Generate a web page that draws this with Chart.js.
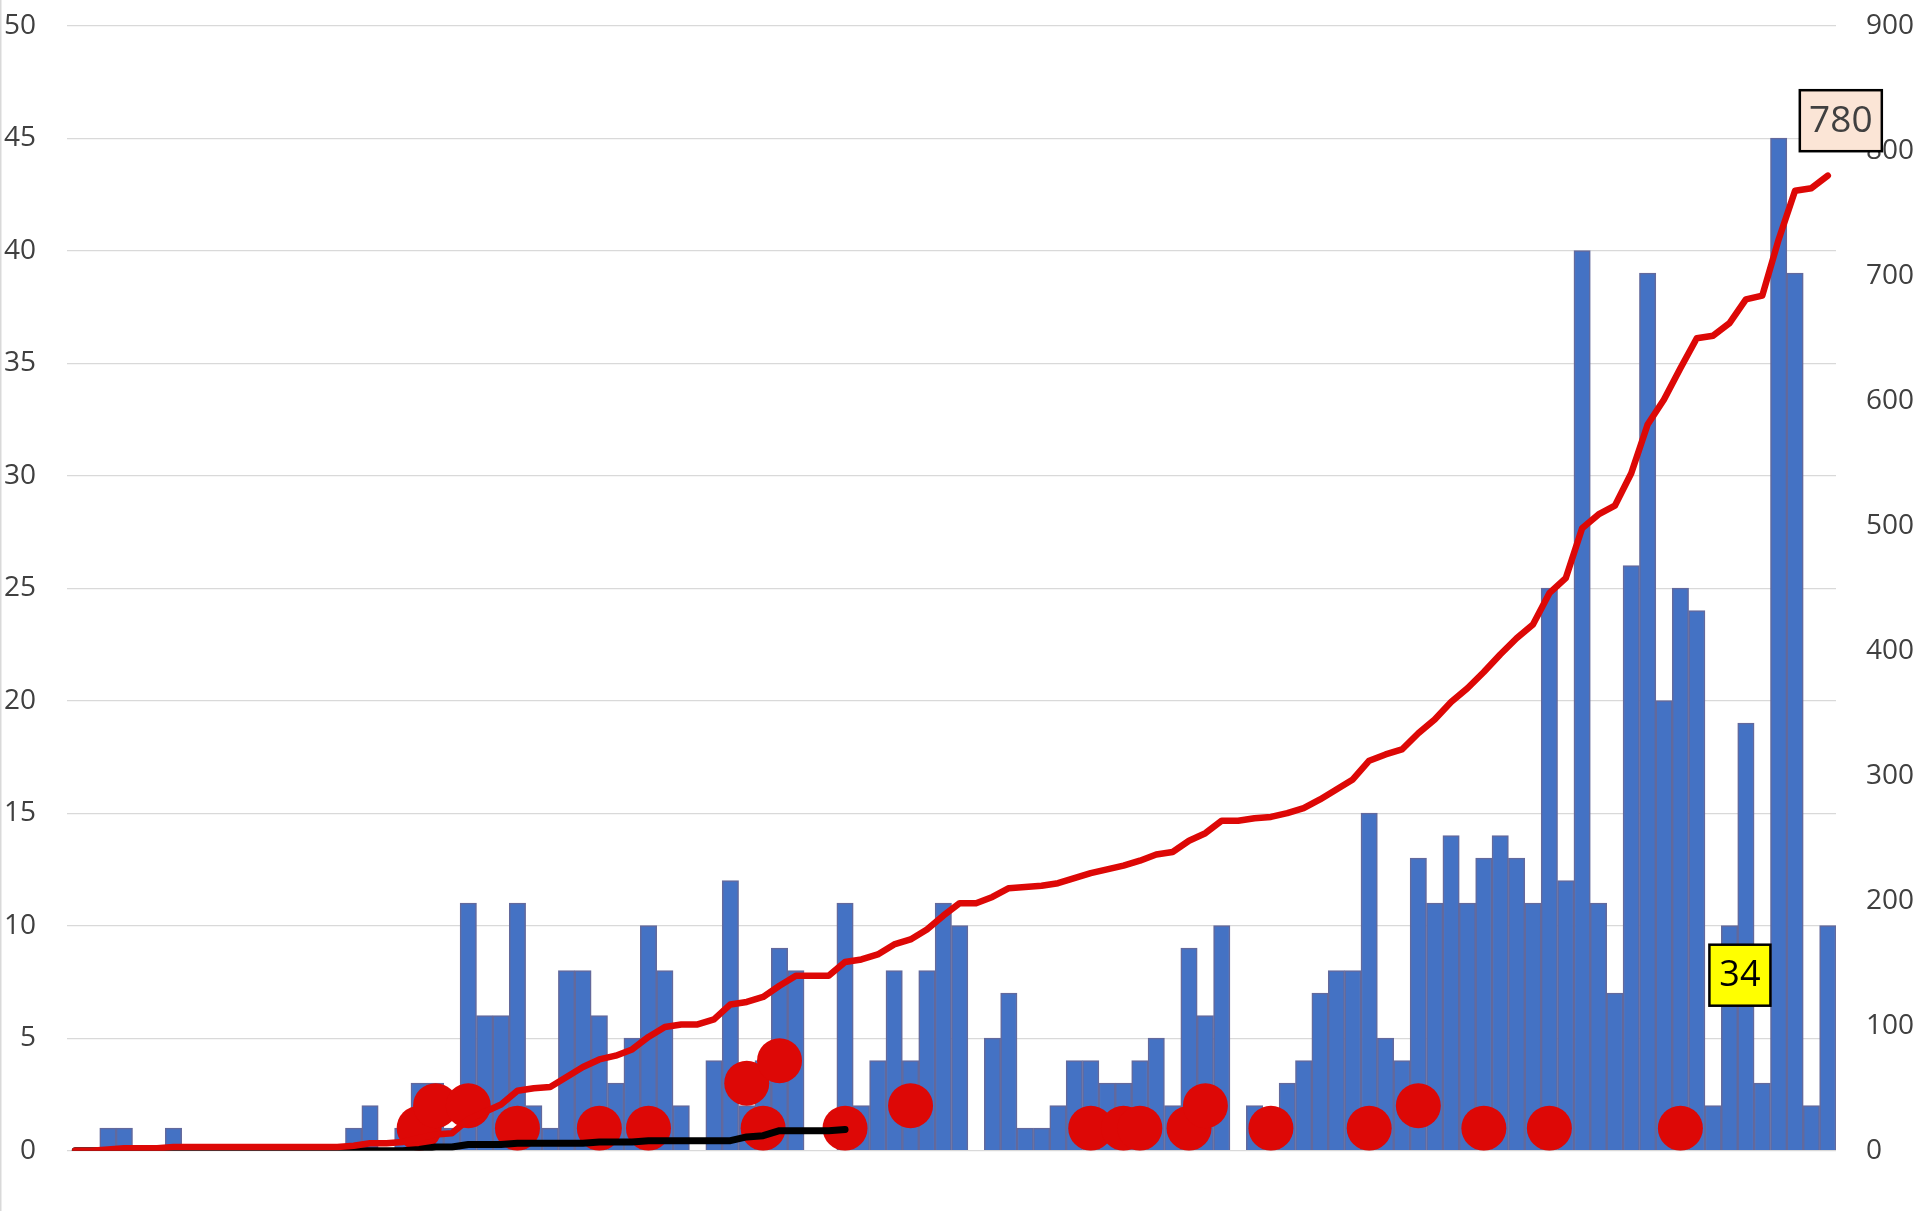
<!DOCTYPE html>
<html>
<head>
<meta charset="utf-8">
<title>Daily cases</title>
<script src="https://cdn.jsdelivr.net/npm/chart.js@4.4.1/dist/chart.umd.min.js"></script>
<style>
  html, body { margin: 0; padding: 0; background: #fff; }
  canvas { display: block; }
</style>
</head>
<body>
<canvas id="myChart" width="1920" height="1211"></canvas>
<script>
// one category per day, the axis shows no labels
const days = Array.from({ length: 108 }, (_, i) => 'D' + (i + 1));

// new cases per day (blue bars, left axis)
const dailyCases = [
    0, 0, 1, 1, 0, 0, 1, 0, 0, 0,
    0, 0, 0, 0, 0, 0, 0, 1, 2, 0,
    1, 3, 3, 1, 11, 6, 6, 11, 2, 1,
    8, 8, 6, 3, 5, 10, 8, 2, 0, 4,
    12, 2, 4, 9, 8, 0, 0, 11, 2, 4,
    8, 4, 8, 11, 10, 0, 5, 7, 1, 1,
    2, 4, 4, 3, 3, 4, 5, 2, 9, 6,
    10, 0, 2, 1, 3, 4, 7, 8, 8, 15,
    5, 4, 13, 11, 14, 11, 13, 14, 13, 11,
    25, 12, 40, 11, 7, 26, 39, 20, 25, 24,
    2, 10, 19, 3, 45, 39, 2, 10
];

// red dots: day index and count (left axis)
const deathDays   = [21, 22, 24, 27, 32, 35, 41, 42, 43, 47, 51, 62, 64, 65, 68, 69, 73, 79, 82, 86, 90, 98];
const deathValues = [1,  2,  2,  1,  1,  1,  3,  1,  4,  1,  2,  1,  1,  1,  1,  2,  1,  1,  2,  1,  1,  1];

// black running total stops at this day
const deathTotalLastDay = 47;

// axis ticks
const leftTicks = { min: 0, max: 50, step: 5 };
const rightTicks = { min: 0, max: 900, step: 100 };

// boxed labels
const totalLabel = '780';
const deathsLabel = '34';

const RED = '#DD0806';
const BLUE = '#4472C4';
const AXIS_TEXT = '#404040';
const FONT = '"Open Sans", "Noto Sans", sans-serif';

const runningTotal = (arr) => {
    let sum = 0;
    return arr.map(v => (sum += v));
};

const buildData = () => {
    const deathsPerDay = days.map(() => null);
    const deathsFlat = days.map(() => 0);
    for (let i = 0; i < deathDays.length; i++) {
        deathsPerDay[deathDays[i]] = deathValues[i];
        deathsFlat[deathDays[i]] = deathValues[i];
    }
    const deathTotal = runningTotal(deathsFlat).map((v, i) => (i <= deathTotalLastDay ? v : null));

    return {
        labels: days,
        datasets: [
            {
                type: 'line',
                data: runningTotal(dailyCases),
                yAxisID: 'y1',
                borderColor: RED,
                borderWidth: 6.5,
                borderJoinStyle: 'round',
                borderCapStyle: 'round',
                pointRadius: 0,
                tension: 0,
                order: 1
            },
            {
                type: 'line',
                data: deathTotal,
                yAxisID: 'y1',
                borderColor: '#000000',
                borderWidth: 7,
                borderJoinStyle: 'round',
                borderCapStyle: 'round',
                pointRadius: 0,
                tension: 0,
                spanGaps: false,
                order: 2
            },
            {
                type: 'line',
                data: deathsPerDay,
                yAxisID: 'y',
                showLine: false,
                pointRadius: 22.5,
                pointBackgroundColor: RED,
                pointBorderWidth: 0,
                borderColor: RED,
                order: 3
            },
            {
                type: 'bar',
                data: dailyCases.map(v => (v === 0 ? null : v)),
                yAxisID: 'y',
                backgroundColor: BLUE,
                borderColor: '#63699C',
                borderWidth: 1.5,
                borderSkipped: 'start',
                barPercentage: 1,
                categoryPercentage: 1,
                order: 4
            }
        ]
    };
};

const drawBox = (ctx, cx, cy, w, h, text, fill, color, size) => {
    ctx.save();
    ctx.fillStyle = fill;
    ctx.fillRect(cx - w / 2, cy - h / 2, w, h);
    ctx.lineWidth = 2.5;
    ctx.strokeStyle = '#000000';
    ctx.strokeRect(cx - w / 2, cy - h / 2, w, h);
    ctx.fillStyle = color;
    ctx.font = size + 'px ' + FONT;
    ctx.textAlign = 'center';
    ctx.textBaseline = 'middle';
    ctx.fillText(text, cx, cy + 1);
    ctx.restore();
};

// boxed value labels and the thin frame line on the left
const extras = {
    id: 'extras',
    beforeDraw(chart) {
        const ctx = chart.ctx;
        ctx.save();
        ctx.strokeStyle = '#D9D9D9';
        ctx.lineWidth = 1.5;
        ctx.beginPath();
        ctx.moveTo(0.75, 0);
        ctx.lineTo(0.75, chart.height);
        ctx.stroke();
        ctx.restore();
    },
    afterDraw(chart) {
        const { ctx, scales } = chart;
        const last = dailyCases.length - 1;
        const total = runningTotal(dailyCases)[last];
        const bx = scales.x.getPixelForValue(last) + 13;
        const by = scales.y1.getPixelForValue(total) - 55;
        drawBox(ctx, bx, by, 82, 61, totalLabel, '#FBE5D6', AXIS_TEXT, 37);

        const sx = scales.x.getPixelForValue(102) - 6;
        const sy = scales.y.getPixelForValue(7.8);
        drawBox(ctx, sx, sy, 61, 61, deathsLabel, '#FFFF00', '#000000', 36);
    }
};

// fixed axis widths, no extra room for the end labels
const fitAxis = (width) => (scale) => {
    scale.width = width;
    scale.paddingTop = 0;
    scale.paddingBottom = 0;
};

const createChart = (data) => {
    const ctx = document.getElementById('myChart').getContext('2d');
    return new Chart(ctx, {
        data,
        plugins: [extras],
        options: {
            responsive: false,
            animation: false,
            devicePixelRatio: 1,
            layout: { padding: { top: 25.7, bottom: 60.3, left: 0, right: 0 } },
            plugins: {
                legend: { display: false },
                tooltip: { enabled: false }
            },
            scales: {
                x: {
                    display: false,
                    offset: true,
                    grid: { display: false }
                },
                y: {
                    position: 'left',
                    min: leftTicks.min,
                    max: leftTicks.max,
                    border: { display: false },
                    grid: { color: '#D9D9D9', lineWidth: 1.3, drawTicks: false },
                    ticks: {
                        stepSize: leftTicks.step,
                        padding: 31,
                        color: AXIS_TEXT,
                        font: { family: FONT, size: 28 }
                    },
                    afterFit: fitAxis(67)
                },
                y1: {
                    position: 'right',
                    min: rightTicks.min,
                    max: rightTicks.max,
                    border: { display: false },
                    grid: { drawOnChartArea: false, drawTicks: false },
                    ticks: {
                        stepSize: rightTicks.step,
                        padding: 30,
                        color: AXIS_TEXT,
                        font: { family: FONT, size: 28 }
                    },
                    afterFit: fitAxis(84)
                }
            }
        }
    });
};

createChart(buildData());
</script>
</body>
</html>
